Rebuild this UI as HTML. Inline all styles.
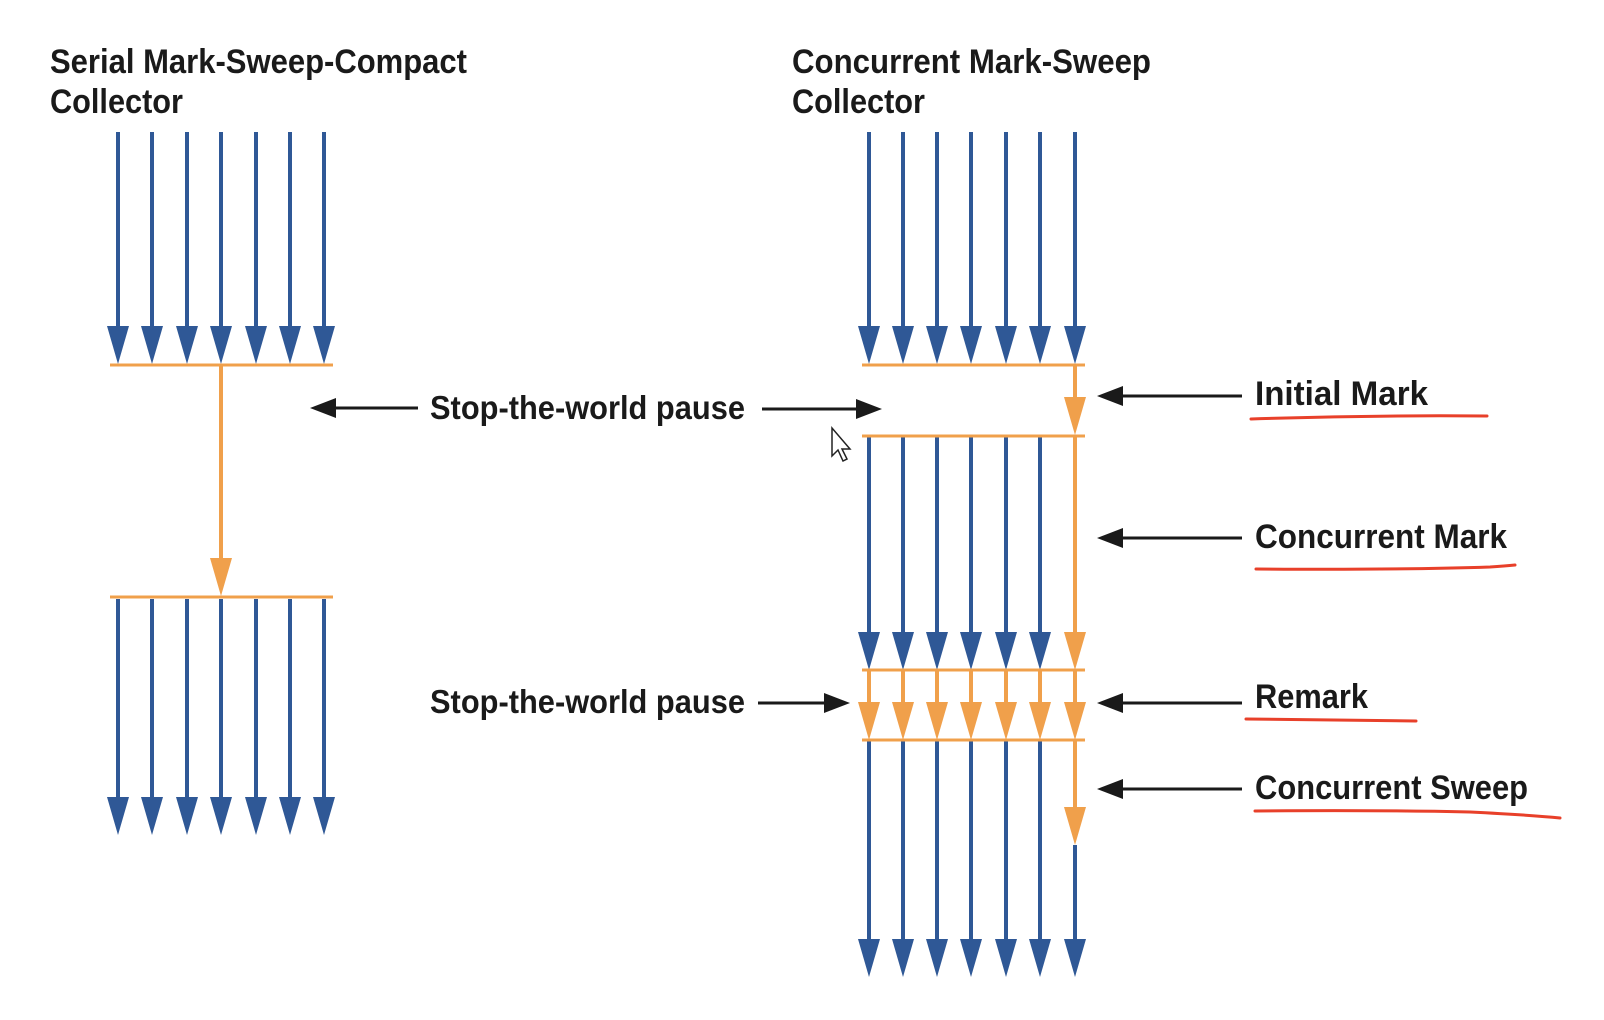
<!DOCTYPE html>
<html><head><meta charset="utf-8"><style>
html,body{margin:0;padding:0;background:#fff;width:1604px;height:1020px;overflow:hidden}
text{font-family:"Liberation Sans",sans-serif;font-weight:bold;fill:#1a1a1a}
</style></head><body>
<svg width="1604" height="1020" viewBox="0 0 1604 1020" xmlns="http://www.w3.org/2000/svg">
<defs>
<polygon id="hb" points="-11,-38 11,-38 0,0" fill="#2f5896"/>
<polygon id="ho" points="-11,-38 11,-38 0,0" fill="#f0a04b"/>
<polygon id="hk" points="0,0 26,-10 26,10" fill="#1a1a1a"/>
</defs>

<!-- titles -->
<text x="50" y="73" font-size="34" textLength="417" lengthAdjust="spacingAndGlyphs">Serial Mark-Sweep-Compact</text>
<text x="50" y="113" font-size="34" textLength="133" lengthAdjust="spacingAndGlyphs">Collector</text>
<text x="792" y="73" font-size="34" textLength="359" lengthAdjust="spacingAndGlyphs">Concurrent Mark-Sweep</text>
<text x="792" y="113" font-size="34" textLength="133" lengthAdjust="spacingAndGlyphs">Collector</text>

<!-- LEFT: top blue arrows -->
<g stroke="#2f5896" stroke-width="4">
<line x1="118" y1="132" x2="118" y2="330"/><line x1="152" y1="132" x2="152" y2="330"/>
<line x1="187" y1="132" x2="187" y2="330"/><line x1="221" y1="132" x2="221" y2="330"/>
<line x1="256" y1="132" x2="256" y2="330"/><line x1="290" y1="132" x2="290" y2="330"/>
<line x1="324" y1="132" x2="324" y2="330"/>
<line x1="118" y1="599" x2="118" y2="800"/><line x1="152" y1="599" x2="152" y2="800"/>
<line x1="187" y1="599" x2="187" y2="800"/><line x1="221" y1="599" x2="221" y2="800"/>
<line x1="256" y1="599" x2="256" y2="800"/><line x1="290" y1="599" x2="290" y2="800"/>
<line x1="324" y1="599" x2="324" y2="800"/>
</g>
<use href="#hb" x="118" y="364"/><use href="#hb" x="152" y="364"/><use href="#hb" x="187" y="364"/>
<use href="#hb" x="221" y="364"/><use href="#hb" x="256" y="364"/><use href="#hb" x="290" y="364"/>
<use href="#hb" x="324" y="364"/>
<use href="#hb" x="118" y="835"/><use href="#hb" x="152" y="835"/><use href="#hb" x="187" y="835"/>
<use href="#hb" x="221" y="835"/><use href="#hb" x="256" y="835"/><use href="#hb" x="290" y="835"/>
<use href="#hb" x="324" y="835"/>
<g stroke="#f0a04b" stroke-width="3">
<line x1="110" y1="365" x2="333" y2="365"/>
<line x1="110" y1="597" x2="333" y2="597"/>
<line x1="221" y1="365" x2="221" y2="560" stroke-width="4"/>
</g>
<use href="#ho" x="221" y="596"/>

<!-- RIGHT -->
<g stroke="#2f5896" stroke-width="4">
<line x1="869" y1="132" x2="869" y2="330"/><line x1="903" y1="132" x2="903" y2="330"/>
<line x1="937" y1="132" x2="937" y2="330"/><line x1="971" y1="132" x2="971" y2="330"/>
<line x1="1006" y1="132" x2="1006" y2="330"/><line x1="1040" y1="132" x2="1040" y2="330"/>
<line x1="1075" y1="132" x2="1075" y2="330"/>
<line x1="869" y1="437" x2="869" y2="636"/><line x1="903" y1="437" x2="903" y2="636"/>
<line x1="937" y1="437" x2="937" y2="636"/><line x1="971" y1="437" x2="971" y2="636"/>
<line x1="1006" y1="437" x2="1006" y2="636"/><line x1="1040" y1="437" x2="1040" y2="636"/>
<line x1="869" y1="741" x2="869" y2="942"/><line x1="903" y1="741" x2="903" y2="942"/>
<line x1="937" y1="741" x2="937" y2="942"/><line x1="971" y1="741" x2="971" y2="942"/>
<line x1="1006" y1="741" x2="1006" y2="942"/><line x1="1040" y1="741" x2="1040" y2="942"/>
<line x1="1075" y1="845" x2="1075" y2="942"/>
</g>
<use href="#hb" x="869" y="364"/><use href="#hb" x="903" y="364"/><use href="#hb" x="937" y="364"/>
<use href="#hb" x="971" y="364"/><use href="#hb" x="1006" y="364"/><use href="#hb" x="1040" y="364"/>
<use href="#hb" x="1075" y="364"/>
<use href="#hb" x="869" y="670"/><use href="#hb" x="903" y="670"/><use href="#hb" x="937" y="670"/>
<use href="#hb" x="971" y="670"/><use href="#hb" x="1006" y="670"/><use href="#hb" x="1040" y="670"/>
<use href="#hb" x="869" y="977"/><use href="#hb" x="903" y="977"/><use href="#hb" x="937" y="977"/>
<use href="#hb" x="971" y="977"/><use href="#hb" x="1006" y="977"/><use href="#hb" x="1040" y="977"/>
<use href="#hb" x="1075" y="977"/>

<g stroke="#f0a04b" stroke-width="3">
<line x1="862" y1="365" x2="1085" y2="365"/>
<line x1="862" y1="436" x2="1085" y2="436"/>
<line x1="862" y1="670" x2="1085" y2="670"/>
<line x1="862" y1="740" x2="1085" y2="740"/>
<g stroke-width="4">
<line x1="1075" y1="365" x2="1075" y2="405"/>
<line x1="1075" y1="436" x2="1075" y2="636"/>
<line x1="1075" y1="740" x2="1075" y2="812"/>
<line x1="869" y1="670" x2="869" y2="706"/><line x1="903" y1="670" x2="903" y2="706"/>
<line x1="937" y1="670" x2="937" y2="706"/><line x1="971" y1="670" x2="971" y2="706"/>
<line x1="1006" y1="670" x2="1006" y2="706"/><line x1="1040" y1="670" x2="1040" y2="706"/>
<line x1="1075" y1="670" x2="1075" y2="706"/>
</g>
</g>
<use href="#ho" x="1075" y="435"/>
<use href="#ho" x="1075" y="670"/>
<use href="#ho" x="1075" y="845"/>
<use href="#ho" x="869" y="740"/><use href="#ho" x="903" y="740"/><use href="#ho" x="937" y="740"/>
<use href="#ho" x="971" y="740"/><use href="#ho" x="1006" y="740"/><use href="#ho" x="1040" y="740"/>
<use href="#ho" x="1075" y="740"/>

<!-- black arrows -->
<g stroke="#1a1a1a" stroke-width="3">
<line x1="330" y1="408" x2="418" y2="408"/>
<line x1="762" y1="409" x2="860" y2="409"/>
<line x1="758" y1="703" x2="828" y2="703"/>
<line x1="1120" y1="396" x2="1242" y2="396"/>
<line x1="1120" y1="538" x2="1242" y2="538"/>
<line x1="1120" y1="703" x2="1242" y2="703"/>
<line x1="1120" y1="789" x2="1242" y2="789"/>
</g>
<use href="#hk" x="310" y="408"/>
<use href="#hk" transform="translate(882,409) scale(-1,1)"/>
<use href="#hk" transform="translate(850,703) scale(-1,1)"/>
<use href="#hk" x="1097" y="396"/>
<use href="#hk" x="1097" y="538"/>
<use href="#hk" x="1097" y="703"/>
<use href="#hk" x="1097" y="789"/>

<!-- labels -->
<text x="430" y="419" font-size="33" textLength="315" lengthAdjust="spacingAndGlyphs">Stop-the-world pause</text>
<text x="430" y="713" font-size="33" textLength="315" lengthAdjust="spacingAndGlyphs">Stop-the-world pause</text>
<text x="1255" y="405" font-size="34" textLength="173" lengthAdjust="spacingAndGlyphs">Initial Mark</text>
<text x="1255" y="548" font-size="34" textLength="252" lengthAdjust="spacingAndGlyphs">Concurrent Mark</text>
<text x="1255" y="708" font-size="34" textLength="113" lengthAdjust="spacingAndGlyphs">Remark</text>
<text x="1255" y="799" font-size="34" textLength="273" lengthAdjust="spacingAndGlyphs">Concurrent Sweep</text>

<!-- red underlines -->
<g stroke="#e8402a" stroke-width="3" fill="none" stroke-linecap="round">
<path d="M1251,419 Q1370,415 1487,416"/>
<path d="M1256,569 Q1400,570 1490,567 Q1505,566 1515,565"/>
<path d="M1246,719 L1416,721"/>
<path d="M1255,811 Q1380,810 1470,812 Q1530,815 1560,818"/>
</g>

<!-- cursor -->
<path d="M832,428 L832,456 L838,450 L843,461 L847,459 L842,449 L850,449 Z" fill="#fff" stroke="#222" stroke-width="1.5"/>
</svg>
</body></html>
